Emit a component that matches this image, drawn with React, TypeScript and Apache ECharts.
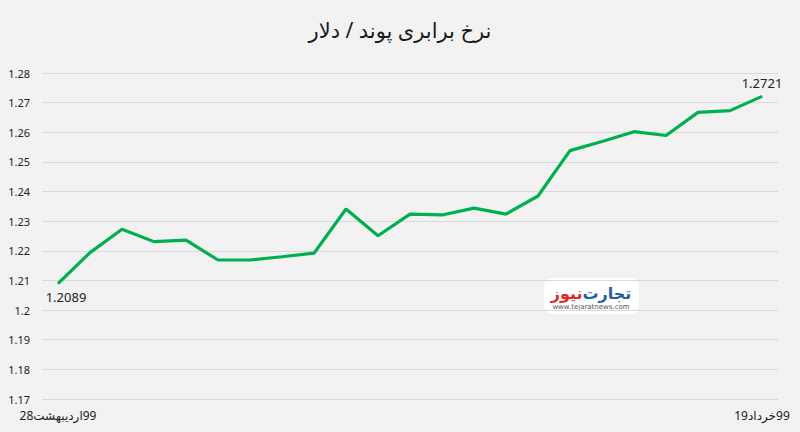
import React, { useEffect, useRef } from "react";
import * as echarts from "echarts";

const titleText = "نرخ برابری پوند / دلار";

const categories = [
  "28اردیبهشت99", "29اردیبهشت99", "30اردیبهشت99", "31اردیبهشت99",
  "1خرداد99", "2خرداد99", "3خرداد99", "4خرداد99", "5خرداد99", "6خرداد99",
  "7خرداد99", "8خرداد99", "9خرداد99", "10خرداد99", "11خرداد99", "12خرداد99",
  "13خرداد99", "14خرداد99", "15خرداد99", "16خرداد99", "17خرداد99", "18خرداد99",
  "19خرداد99",
];

const rates = [
  1.2089, 1.2194, 1.2273, 1.2231, 1.2236, 1.2169, 1.2169, 1.218, 1.2192,
  1.2341, 1.2251, 1.2324, 1.2321, 1.2344, 1.2324, 1.2385, 1.2538, 1.2569,
  1.2602, 1.2589, 1.2667, 1.2673, 1.2721,
];

const yMin = 1.17;
const yMax = 1.28;
const yStep = 0.01;

const FONT = "'Noto Sans', 'DejaVu Sans', sans-serif";

// lay out day, month and year left to right as separate fragments
const dateRich = (s: string) => {
  const m = s.match(/^(\d+)(\D+)(\d+)$/);
  if (!m) return s;
  return `{n|${m[1]}}{w|${m[2]}}{n|${m[3]}}`;
};

export default function App() {
  const ref = useRef<HTMLDivElement>(null);
  useEffect(() => {
    if (!ref.current) return;
    const chart = echarts.init(ref.current, undefined, { renderer: "svg" });
    const last = rates.length - 1;
    chart.setOption({
      animation: false,
      backgroundColor: "#f2f2f2",
      textStyle: { fontFamily: FONT },
      title: {
        text: titleText,
        left: "center",
        top: 14,
        textStyle: { fontSize: 21, fontWeight: "normal", color: "#1a1a1a", fontFamily: FONT },
      },
      grid: { left: 42, right: 22, top: 73, bottom: 33, containLabel: false },
      xAxis: {
        type: "category",
        data: categories,
        boundaryGap: true,
        axisLine: { show: false },
        axisTick: { show: false },
        axisLabel: {
          interval: (i: number) => i === 0 || i === last,
          formatter: (v: string) => dateRich(v),
          color: "#222",
          fontSize: 12,
          margin: 10,
          fontFamily: FONT,
          rich: {
            n: { color: "#222", fontSize: 12, fontFamily: FONT },
            w: { color: "#222", fontSize: 12, fontFamily: FONT },
          },
        },
      },
      yAxis: {
        type: "value",
        min: yMin,
        max: yMax,
        interval: yStep,
        axisLine: { show: false },
        axisTick: { show: false },
        axisLabel: { color: "#222", fontSize: 11, margin: 12, fontFamily: FONT },
        splitLine: { lineStyle: { color: "#d9d9d9", width: 1 } },
      },
      series: [
        {
          type: "line",
          data: rates.map((v, i) => {
            if (i === 0)
              return {
                value: v,
                label: { show: true, position: "bottom", offset: [8, 0] },
              };
            if (i === last) return { value: v, label: { show: true, position: "top" } };
            return v;
          }),
          showSymbol: true,
          symbol: "circle",
          symbolSize: 1,
          lineStyle: { color: "#00b050", width: 3.2 },
          itemStyle: { color: "#00b050" },
          label: {
            show: false,
            color: "#222",
            fontSize: 13,
            fontFamily: FONT,
            distance: 6,
            formatter: (p: any) => String(p.value),
          },
        },
      ],
      graphic: [
        {
          type: "rect",
          shape: { x: 544, y: 278, width: 95, height: 36, r: 8 },
          style: { fill: "#ffffff" },
        },
        {
          type: "text",
          x: 591,
          y: 293,
          style: {
            text: "{r|نیوز}{b|تجارت}",
            align: "center",
            verticalAlign: "middle",
            rich: {
              r: { fill: "#e3262e", font: "bold 16px 'DejaVu Sans', sans-serif" },
              b: { fill: "#1f5fa8", font: "bold 16px 'DejaVu Sans', sans-serif" },
            },
          },
        },
        {
          type: "text",
          x: 591,
          y: 307,
          style: {
            text: "www.tejaratnews.com",
            align: "center",
            verticalAlign: "middle",
            fill: "#555",
            font: "7px 'DejaVu Sans', sans-serif",
          },
        },
      ],
    });
    return () => chart.dispose();
  }, []);
  return <div ref={ref} style={{ width: 800, height: 432, position: "absolute", left: 0, top: 0 }} />;
}
